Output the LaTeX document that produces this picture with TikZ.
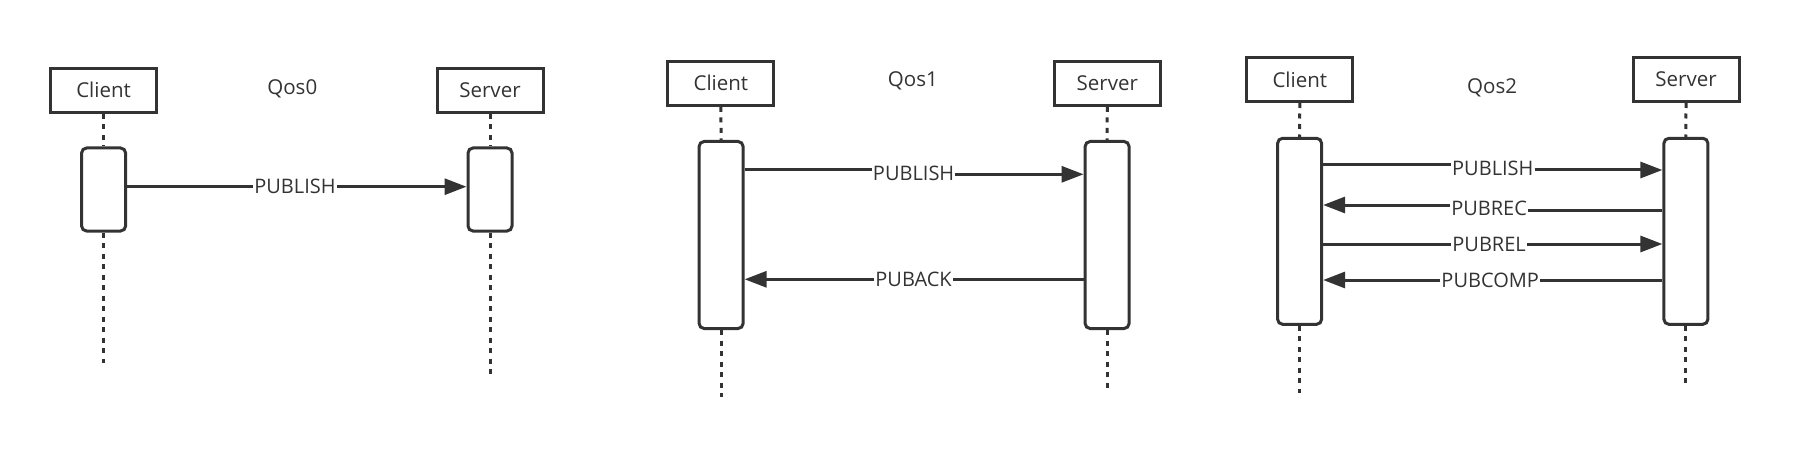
\documentclass[tikz,border=0pt]{standalone}
\usepackage{fontspec}
\setmainfont{Open Sans}
\usetikzlibrary{arrows.meta}
\definecolor{ink}{HTML}{333333}
\begin{document}
\begin{tikzpicture}[x=1pt,y=-1pt,
  hdr/.style={draw=ink, line width=3pt, minimum width=106pt, minimum height=44pt, inner sep=0pt, text=ink, font=\fontsize{20.5}{24}\selectfont},
  ttl/.style={inner sep=0pt, text=ink, font=\fontsize{20.5}{24}\selectfont},
  act/.style={draw=ink, line width=3pt, rounded corners=5pt, fill=white, minimum width=44pt, inner sep=0pt},
  life/.style={draw=ink, line width=3pt, dash pattern=on 5pt off 5.5pt},
  msg/.style={draw=ink, line width=3pt},
  arr/.style={msg, -{Triangle[length=22pt,width=16pt]}},
  lbl/.style={inner xsep=1pt, inner ysep=0pt, text=ink, font=\fontsize{20}{24}\selectfont}]
\useasboundingbox (0,0) rectangle (1802,468);

% ---------- Qos0 ----------
\node[hdr] (c0) at (103.6,90.3) {Client};
\node[hdr] (s0) at (490,90.3) {Server};
\node[ttl] (q0) at (292.3,89.3) {Qos0};
\node[act, minimum height=83pt] (ca0) at (103.6,189.5) {};
\node[act, minimum height=83pt] (sa0) at (490,189.5) {};
\coordinate (ce0) at (103.6,363);
\coordinate (se0) at (490,375);
\draw[life] (c0.south) -- (ca0.north);
\draw[life] (ca0.south) -- (ce0);
\draw[life] (s0.south) -- (sa0.north);
\draw[life] (sa0.south) -- (se0);
\node[lbl] (l01) at (295,186.7) {PUBLISH};
\draw[msg] (ca0.east |- l01) -- (l01.west);
\draw[arr] (l01.east) -- (sa0.west |- l01);

% ---------- Qos1 ----------
\node[hdr] (c1) at (720.9,83.3) {Client};
\node[hdr] (s1) at (1107.3,83.3) {Server};
\node[ttl] (q1) at (912.9,80.7) {Qos1};
\node[act, minimum height=187pt] (ca1) at (721.1,235) {};
\node[act, minimum height=187pt] (sa1) at (1107.1,235) {};
\coordinate (ce1) at (721.1,396.7);
\coordinate (se1) at (1107.1,390);
\draw[life] (c1.south) -- (ca1.north);
\draw[life] (ca1.south) -- (ce1);
\draw[life] (s1.south) -- (sa1.north);
\draw[life] (sa1.south) -- (se1);
\node[lbl] (l11) at (913.6,173) {PUBLISH};
\draw[msg] (ca1.east |- 0,169.3) -- (l11.west |- 0,169.3);
\draw[arr] (l11.east |- 0,174.3) -- (sa1.west |- 0,174.3);
\node[lbl] (l12) at (913.6,279.3) {PUBACK};
\draw[msg] (sa1.west |- l12) -- (l12.east);
\draw[arr] (l12.west) -- (ca1.east |- l12);

% ---------- Qos2 ----------
\node[hdr] (c2) at (1299.8,79.5) {Client};
\node[hdr] (s2) at (1686,79.5) {Server};
\node[ttl] (q2) at (1492.1,88.3) {Qos2};
\node[act, minimum height=186pt] (ca2) at (1299.6,231.3) {};
\node[act, minimum height=186pt] (sa2) at (1685.9,231.3) {};
\coordinate (ce2) at (1299.6,392.7);
\coordinate (se2) at (1685.9,385);
\draw[life] (c2.south) -- (ca2.north);
\draw[life] (ca2.south) -- (ce2);
\draw[life] (s2.south) -- (sa2.north);
\draw[life] (sa2.south) -- (se2);
\node[lbl] (l21) at (1492.8,168) {PUBLISH};
\draw[msg] (ca2.east |- 0,165) -- (l21.west |- 0,165);
\draw[arr] (l21.east |- 0,170) -- (sa2.west |- 0,170);
\node[lbl] (l22) at (1489.1,208) {PUBREC};
\draw[msg] (sa2.west |- 0,210) -- (l22.east |- 0,210);
\draw[arr] (l22.west |- 0,205) -- (ca2.east |- 0,205);
\node[lbl] (l23) at (1489.1,244) {PUBREL};
\draw[msg] (ca2.east |- l23) -- (l23.west);
\draw[arr] (l23.east) -- (sa2.west |- l23);
\node[lbl] (l24) at (1490.2,280) {PUBCOMP};
\draw[msg] (sa2.west |- l24) -- (l24.east);
\draw[arr] (l24.west) -- (ca2.east |- l24);
\end{tikzpicture}
\end{document}
